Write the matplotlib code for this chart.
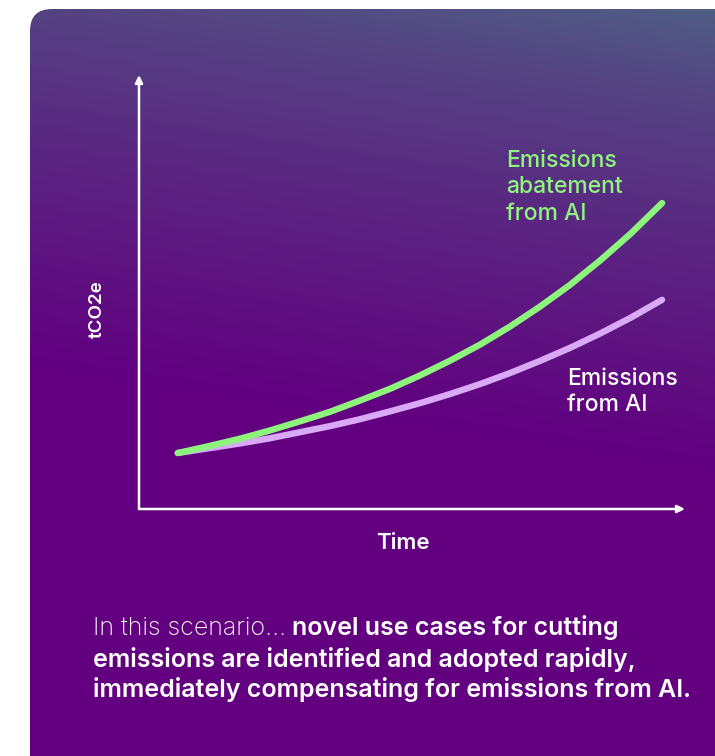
import numpy as np
import matplotlib.pyplot as plt
from matplotlib.patches import FancyBboxPatch

plt.rcParams['font.family'] = ['Inter', 'DejaVu Sans']

# curve values (time, tCO2e), arbitrary units
time_pts = [0.71, 1.28, 1.85, 2.40, 2.95, 3.50, 4.05, 4.60, 5.15,
            5.70, 6.25, 6.79, 7.34, 7.89, 8.44, 9.01, 9.58]
abatement = [1.29, 1.45, 1.62, 1.81, 2.02, 2.24, 2.50, 2.77, 3.08,
             3.42, 3.79, 4.20, 4.66, 5.16, 5.72, 6.35, 7.05]
emissions = [1.29, 1.40, 1.51, 1.63, 1.77, 1.91, 2.07, 2.25, 2.44,
             2.65, 2.88, 3.13, 3.41, 3.71, 4.04, 4.41, 4.82]

label_abatement = 'Emissions\nabatement\nfrom AI'
label_emissions = 'Emissions\nfrom AI'
x_label = 'Time'
y_label = 'tCO2e'
caption_light = 'In this scenario...'
caption_bold = ['novel use cases for cutting',
                'emissions are identified and adopted rapidly,',
                'immediately compensating for emissions from AI.']

GREEN = '#8ef57c'
LILAC = '#d9a9f8'
W, H = 715, 756

fig = plt.figure(figsize=(W / 100, H / 100), dpi=100)
fig.patch.set_facecolor('white')

# background card with a gradient, in pixel coordinates
bg = fig.add_axes([0, 0, 1, 1])
bg.set_xlim(0, W)
bg.set_ylim(H, 0)
bg.axis('off')

card = FancyBboxPatch((30, 9), 800, 850, boxstyle='round,pad=0,rounding_size=22',
                      facecolor='none', edgecolor='none')
bg.add_patch(card)

yy, xx = np.mgrid[0:H, 0:W]
t = np.clip((yy + 0.15 * (W - xx)) / 470.0, 0, 1) ** 0.75
top = np.array([0x4e, 0x64, 0x84]) / 255
bottom = np.array([0x62, 0x00, 0x80]) / 255
grad = top[None, None, :] * (1 - t[..., None]) + bottom[None, None, :] * t[..., None]
img = bg.imshow(grad, extent=(0, W, H, 0), aspect='auto', zorder=0)
img.set_clip_path(card)

# chart area
ax = fig.add_axes([139 / W, 1 - 509 / H, 546 / W, 434 / H])
ax.set_xlim(0, 10)
ax.set_ylim(0, 10)
ax.axis('off')
ax.patch.set_alpha(0)

arrow = dict(arrowstyle='-|>', color='white', lw=1.8, mutation_scale=11,
             shrinkA=0, shrinkB=0)
ax.annotate('', xy=(0, 1), xytext=(0, 0), xycoords='axes fraction', arrowprops=arrow)
ax.annotate('', xy=(1, 0), xytext=(0, 0), xycoords='axes fraction', arrowprops=arrow)

ax.plot(time_pts, emissions, color=LILAC, lw=4.6, solid_capstyle='round',
        solid_joinstyle='round')
ax.plot(time_pts, abatement, color=GREEN, lw=4.6, solid_capstyle='round',
        solid_joinstyle='round')

bg.text(506, 150, label_abatement, color=GREEN, fontsize=16.5, fontweight='medium',
        va='top', ha='left', linespacing=1.26)
bg.text(567, 368, label_emissions, color='white', fontsize=16.5, fontweight='medium',
        va='top', ha='left', linespacing=1.26)
bg.text(403, 543, x_label, color='white', fontsize=16, fontweight='semibold',
        ha='center', va='center')
bg.text(97, 309, y_label, color='white', fontsize=13.5, fontweight='semibold',
        ha='center', va='center', rotation=90)

# caption: light lead-in followed by bold text
fs = 18
line_y = [628, 659, 690]
lead = bg.text(93, line_y[0], caption_light, color='white', fontsize=fs,
               fontweight='light', ha='left', va='center')
fig.canvas.draw()
r = fig.canvas.get_renderer()
x_end = lead.get_window_extent(r).x1
bg.text(x_end + 6, line_y[0], caption_bold[0], color='white', fontsize=fs,
        fontweight='semibold', ha='left', va='center')
for s, y in zip(caption_bold[1:], line_y[1:]):
    bg.text(93, y, s, color='white', fontsize=fs, fontweight='semibold',
            ha='left', va='center')

fig.savefig('out.png', dpi=100)
